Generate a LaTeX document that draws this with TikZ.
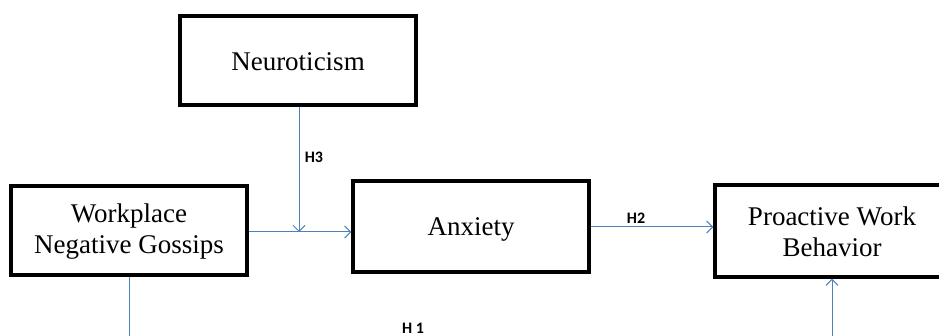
\documentclass[tikz,border=0pt]{standalone}
\usepackage{fontspec}
\setmainfont{Liberation Serif}
\newfontfamily\labelfont{Carlito}
\usetikzlibrary{arrows.meta}
\definecolor{linkblue}{RGB}{79,129,189}
\begin{document}
\begin{tikzpicture}[x=1pt,y=-1pt,
  construct/.style={draw=black,line width=3.2pt,fill=white,inner sep=0pt},
  caption/.style={align=center,inner sep=0pt,font=\fontsize{27}{31}\selectfont},
  link/.style={draw=linkblue,line width=1pt,
    -{Straight Barb[length=6pt,width=12pt,line width=1pt]}},
  plain/.style={draw=linkblue,line width=1pt},
  hyp/.style={font=\labelfont\bfseries\fontsize{16}{16}\selectfont,text=black,inner sep=0pt}]
  \useasboundingbox (0,0) rectangle (939,336);
  \clip (0,0) rectangle (939,336);
  \fill[white] (0,0) rectangle (939,336);

  % construct boxes
  \node[construct,minimum width=236pt,minimum height=89pt] (neu) at (298,60.5) {};
  \node[construct,minimum width=236pt,minimum height=89pt] (wng) at (129,230.5) {};
  \node[construct,minimum width=236pt,minimum height=91pt] (anx) at (471,226.5) {};
  \node[construct,minimum width=250pt,minimum height=92pt] (pwb) at (840,231) {};

  % construct names
  \node[caption] (neutxt) at (298,62) {Neuroticism};
  \node[caption] (wngtxt) at (129,232) {Workplace\\Negative Gossips};
  \node[caption] (anxtxt) at (471,229) {Anxiety};
  \node[caption] (pwbtxt) at (832,232) {Proactive Work\\Behavior};

  % free ends below the visible area
  \coordinate (wngdown) at (129,360);
  \coordinate (pwbup) at (832,360);
  \coordinate (modpt) at (299,232);

  % paths
  \draw[link] (wng.east |- modpt) -- (anx.west |- modpt);
  \draw[link] (neu.south -| modpt) -- (modpt);
  \draw[link] (anx.east |- 0,227) -- (pwb.west |- 0,227);
  \draw[plain] (wng.south) -- (wngdown);
  \draw[link] (pwbup) -- (pwb.south -| pwbup);

  % hypothesis labels
  \node[hyp] (h3) at (314,157) {H3};
  \node[hyp] (h2) at (636,218) {H2};
  \node[hyp] (h1) at (413,328) {H 1};
\end{tikzpicture}
\end{document}
